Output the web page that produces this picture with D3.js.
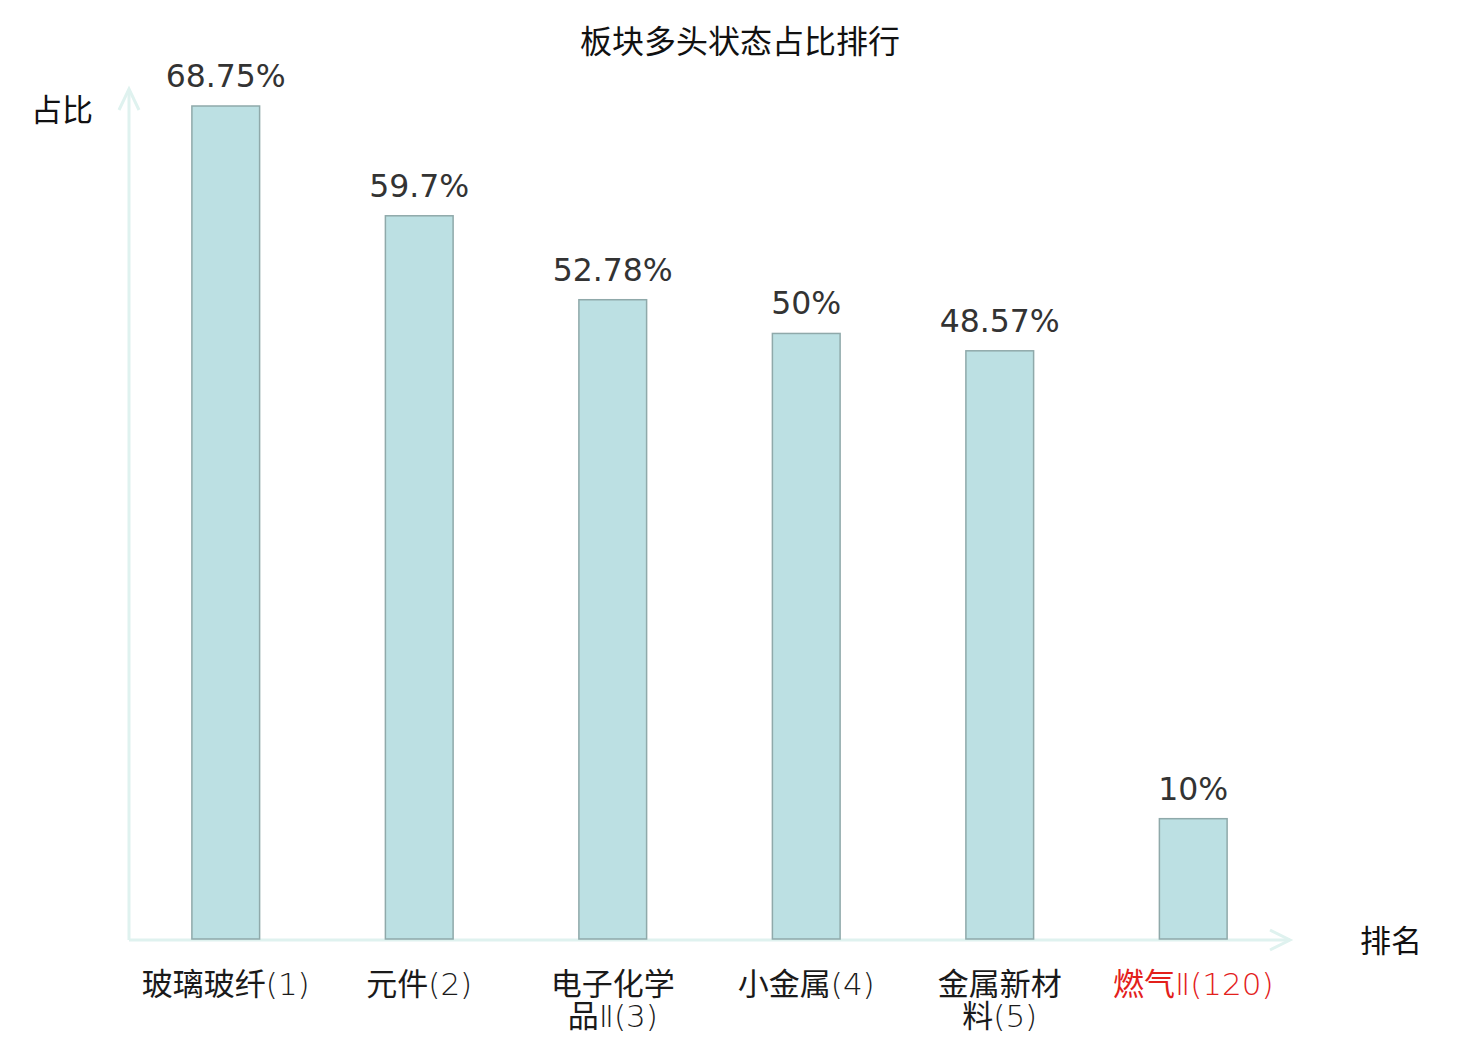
<!DOCTYPE html>
<html>
<head>
<meta charset="utf-8">
<script src="https://cdn.jsdelivr.net/npm/d3@7"></script>
<style>
html,body{margin:0;padding:0;background:#fff;}
svg{display:block;}
</style>
</head>
<body>
<svg id="chart" width="1480" height="1040"></svg>
<script>
const categories = ["玻璃玻纤(1)", "元件(2)", "电子化学品Ⅱ(3)", "小金属(4)", "金属新材料(5)", "燃气Ⅱ(120)"];
const labelLines = [["玻璃玻纤(1)"], ["元件(2)"], ["电子化学", "品Ⅱ(3)"], ["小金属(4)"], ["金属新材", "料(5)"], ["燃气Ⅱ(120)"]];
const values = [68.75, 59.7, 52.78, 50, 48.57, 10];
const valueLabels = ["68.75%", "59.7%", "52.78%", "50%", "48.57%", "10%"];
const highlight = [false, false, false, false, false, true];
const title = "板块多头状态占比排行";
const yName = "占比";
const xName = "排名";

const svg = d3.select("#chart");
const x0 = 129, x1 = 1290, yBase = 940;
const x = d3.scaleBand().domain(categories).range([x0, x1]).paddingInner(0.65).paddingOuter(0.325);
const y = d3.scaleLinear().domain([0, 68.75]).range([yBase, 106]);

const axisColor = "#dff2ef";
const ax = svg.append("g").attr("stroke", axisColor).attr("stroke-width", 3).attr("fill", "none");
ax.append("line").attr("x1", x0).attr("y1", yBase).attr("x2", x0).attr("y2", 89);
ax.append("polyline").attr("points", `${x0-10},${110} ${x0},${89} ${x0+10},${110}`);
ax.append("line").attr("x1", x0).attr("y1", yBase).attr("x2", x1).attr("y2", yBase);
ax.append("polyline").attr("points", `${x1-20},${yBase-10} ${x1},${yBase} ${x1-20},${yBase+10}`);

svg.append("g").selectAll("rect").data(values).join("rect")
  .attr("x", (d, i) => x(categories[i]))
  .attr("y", d => y(d))
  .attr("width", x.bandwidth())
  .attr("height", d => yBase - 1 - y(d))
  .attr("fill", "#bce0e3")
  .attr("stroke", "#8fa9aa")
  .attr("stroke-width", 1.5);

svg.append("g").selectAll("text").data(values).join("text")
  .attr("x", (d, i) => x(categories[i]) + x.bandwidth() / 2)
  .attr("y", d => y(d) - 19)
  .attr("text-anchor", "middle")
  .attr("font-family", "DejaVu Sans, sans-serif")
  .attr("font-size", 31.5)
  .attr("fill", "#333")
  .text((d, i) => valueLabels[i]);

const cjkRe = /[\u4e00-\u9fff]+|[^\u4e00-\u9fff]+/g;
const cg = svg.append("g");
categories.forEach((c, i) => {
  labelLines[i].forEach((ln, j) => {
    const t = cg.append("text")
      .attr("x", x(c) + x.bandwidth() / 2)
      .attr("y", 995 + j * 32)
      .attr("text-anchor", "middle")
      .attr("font-size", 31)
      .attr("fill", highlight[i] ? "#e3201b" : "#1a1a1a");
    (ln.match(cjkRe) || []).forEach(run => {
      const isCjk = /[\u4e00-\u9fff]/.test(run);
      t.append("tspan")
        .attr("font-family", isCjk ? "'Noto Sans CJK SC', sans-serif" : "'DejaVu Sans', sans-serif")
        .attr("font-weight", isCjk ? 400 : 200)
        .text(run);
    });
  });
});

svg.append("text").attr("x", 62).attr("y", 121).attr("text-anchor", "middle")
  .attr("font-family", "'Noto Sans CJK SC', sans-serif").attr("font-size", 31).attr("fill", "#111").text(yName);
svg.append("text").attr("x", 1391).attr("y", 952).attr("text-anchor", "middle")
  .attr("font-family", "'Noto Sans CJK SC', sans-serif").attr("font-size", 31).attr("fill", "#111").text(xName);

svg.append("text").attr("x", 740).attr("y", 53).attr("text-anchor", "middle")
  .attr("font-family", "'Noto Sans CJK SC', sans-serif").attr("font-size", 32).attr("fill", "#111").text(title);
</script>
</body>
</html>
